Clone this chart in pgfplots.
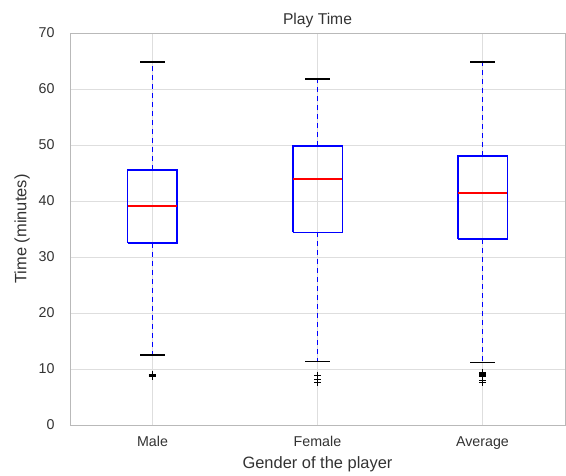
\documentclass[border=0pt]{standalone}
\usepackage{pgfplots}
\pgfplotsset{compat=1.18}
\usepackage{fontspec}
\setmainfont{Liberation Sans}
\definecolor{txt}{RGB}{50,50,50}
\definecolor{gridc}{RGB}{222,222,222}
\definecolor{framec}{RGB}{185,185,185}
\definecolor{boxblue}{RGB}{0,0,255}
\definecolor{medred}{RGB}{255,0,0}
\pgfplotsset{
  myBox/.style={draw=boxblue, line width=1.5bp, mark=none, solid},
  myMed/.style={draw=medred, line width=1.5bp, mark=none, solid},
  myWhisk/.style={draw=boxblue, line width=1.6bp, mark=none, dash pattern=on 5bp off 4bp},
  myCap/.style={draw=black, line width=1.3bp, mark=none, solid},
  myOut/.style={draw=black, only marks, mark=+, mark size=3.5bp, line width=1bp, solid},
}
\begin{document}
\begin{tikzpicture}
\begin{axis}[
  scale only axis, width=495bp, height=392bp,
  xmin=0.5, xmax=3.5, ymin=0, ymax=70,
  xtick={1,2,3}, xticklabels={Male,Female,Average},
  ytick={0,10,...,70},
  grid=major, major grid style={draw=gridc, line width=0.8bp},
  axis line style={draw=framec, line width=0.8bp},
  tick style={draw=none},
  ticklabel style={font=\fontsize{14.3}{16}\selectfont, text=txt},
  xticklabel style={yshift=-8bp},
  yticklabel style={xshift=-12bp},
  /pgf/number format/assume math mode=true,
  title={Play Time}, title style={font=\fontsize{15.7}{18}\selectfont, text=txt, yshift=-4bp},
  xlabel={Gender of the player}, ylabel={Time (minutes)},
  label style={font=\fontsize{16.5}{19}\selectfont, text=txt},
  xlabel style={at={([yshift=-39bp]rel axis cs:0.5,0)}, anchor=center},
  ylabel style={at={([xshift=-48bp]rel axis cs:0,0.5)}, anchor=center},
  clip=false,
]
% Male
\addplot[myWhisk] coordinates {(1,45.5) (1,64.8)};
\addplot[myWhisk] coordinates {(1,32.5) (1,12.5)};
\addplot[myCap] coordinates {(0.925,64.8) (1.075,64.8)};
\addplot[myCap] coordinates {(0.925,12.5) (1.075,12.5)};
\addplot[myBox] coordinates {(0.85,32.5) (1.15,32.5) (1.15,45.5) (0.85,45.5) (0.85,32.5)};
\addplot[myMed] coordinates {(0.85,39.1) (1.15,39.1)};
\addplot[myOut] coordinates {(1,9.1) (1,9.0) (1,8.9) (1,8.8) (1,8.7) (1,8.6)};
% Female
\addplot[myWhisk] coordinates {(2,49.8) (2,61.8)};
\addplot[myWhisk] coordinates {(2,34.4) (2,11.4)};
\addplot[myCap] coordinates {(1.925,61.8) (2.075,61.8)};
\addplot[myCap] coordinates {(1.925,11.4) (2.075,11.4)};
\addplot[myBox] coordinates {(1.85,34.4) (2.15,34.4) (2.15,49.8) (1.85,49.8) (1.85,34.4)};
\addplot[myMed] coordinates {(1.85,43.9) (2.15,43.9)};
\addplot[myOut] coordinates {(2,8.9) (2,8.2) (2,7.6)};
% Average
\addplot[myWhisk] coordinates {(3,48.0) (3,64.8)};
\addplot[myWhisk] coordinates {(3,33.2) (3,11.1)};
\addplot[myCap] coordinates {(2.925,64.8) (3.075,64.8)};
\addplot[myCap] coordinates {(2.925,11.1) (3.075,11.1)};
\addplot[myBox] coordinates {(2.85,33.2) (3.15,33.2) (3.15,48.0) (2.85,48.0) (2.85,33.2)};
\addplot[myMed] coordinates {(2.85,41.4) (3.15,41.4)};
\addplot[myOut] coordinates {(3,9.3) (3,9.2) (3,9.1) (3,9.0) (3,8.9) (3,8.8) (3,8.7) (3,8.6) (3,8.0) (3,7.5)};
\end{axis}
\path ([shift={(-70bp,-51bp)}]current axis.south west) rectangle ([shift={(1bp,33bp)}]current axis.north east);
\end{tikzpicture}
\end{document}
